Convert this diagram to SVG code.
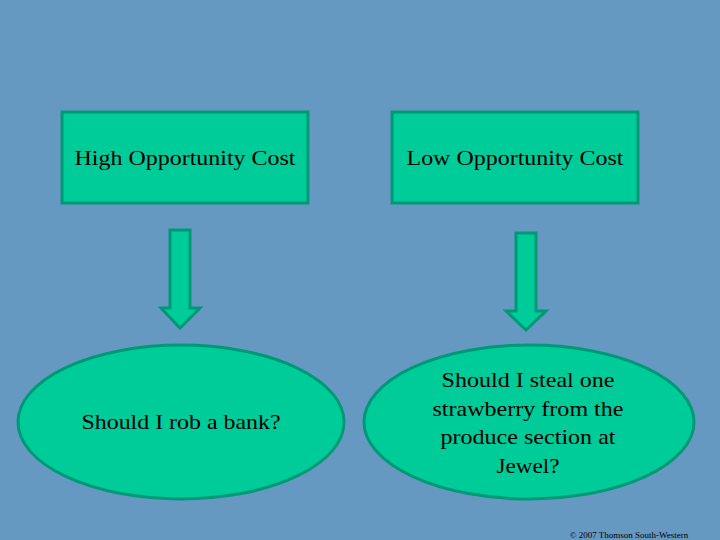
<svg xmlns="http://www.w3.org/2000/svg" width="720" height="540" viewBox="0 0 720 540">
<style>
.n{fill:#00CC99;stroke:#009977;stroke-width:3}
.t{font-family:"Liberation Serif",serif;font-size:21px;fill:#000;text-anchor:middle}
</style>
<rect width="720" height="540" fill="#6699C2"/>
<g id="high"><rect class="n" x="62" y="112" width="246" height="91"/><text class="t" x="185" y="165" textLength="221" lengthAdjust="spacingAndGlyphs">High Opportunity Cost</text></g>
<g id="low"><rect class="n" x="392" y="112" width="246" height="91"/><text class="t" x="515" y="165" textLength="217" lengthAdjust="spacingAndGlyphs">Low Opportunity Cost</text></g>
<g id="bank"><ellipse class="n" cx="181" cy="422" rx="163" ry="77"/><text class="t" x="181" y="429" textLength="199" lengthAdjust="spacingAndGlyphs">Should I rob a bank?</text></g>
<g id="straw"><ellipse class="n" cx="529" cy="422" rx="165" ry="77"/>
<text class="t" x="528" y="387" textLength="173" lengthAdjust="spacingAndGlyphs">Should I steal one</text>
<text class="t" x="528" y="416" textLength="191" lengthAdjust="spacingAndGlyphs">strawberry from the</text>
<text class="t" x="528" y="444" textLength="175" lengthAdjust="spacingAndGlyphs">produce section at</text>
<text class="t" x="528" y="473" textLength="63" lengthAdjust="spacingAndGlyphs">Jewel?</text></g>
<g id="connectors">
<path class="n" d="M170,230H190V308H200L180,328L161,308H170Z"/>
<path class="n" d="M516,233H536V311H546L526,330L506,311H516Z"/>
</g>
<text x="629" y="538" font-family="Liberation Serif,serif" font-size="9" text-anchor="middle" fill="#000">© 2007 Thomson South-Western</text>
</svg>
